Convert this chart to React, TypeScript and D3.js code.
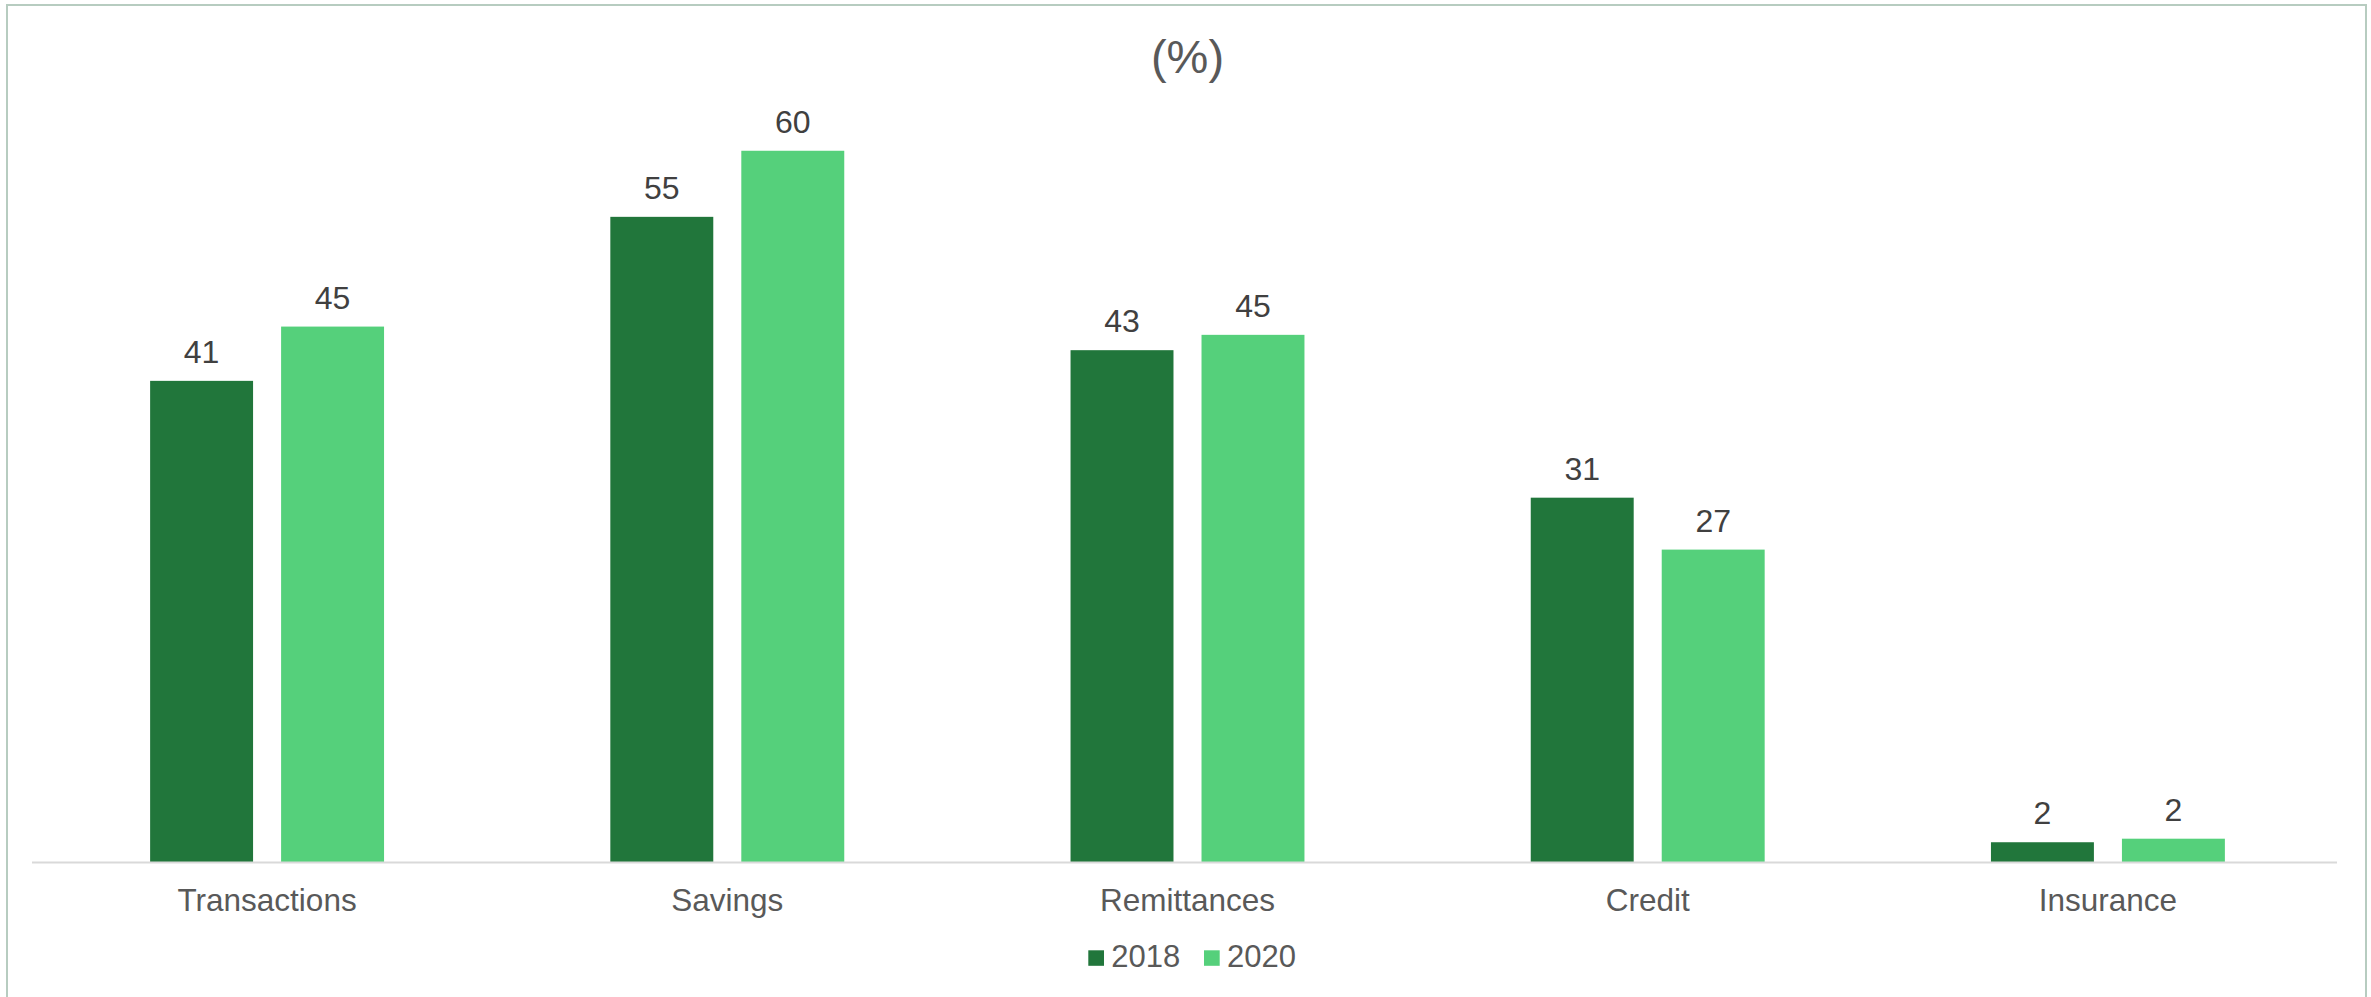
import React from "react";
import * as d3 from "d3";

const categories = ["Transactions", "Savings", "Remittances", "Credit", "Insurance"];
const seriesNames = ["2018", "2020"];
const values2018 = [40.8, 54.7, 43.4, 30.9, 1.7];
const values2020 = [45.4, 60.3, 44.7, 26.5, 2.0];
const labels2018 = ["41", "55", "43", "31", "2"];
const labels2020 = ["45", "60", "45", "27", "2"];
const title = "(%)";

const W = 2371;
const H = 997;
const colors: Record<string, string> = { "2018": "#21763B", "2020": "#55D07B" };
const FONT = "'Liberation Sans', Arial, sans-serif";

export default function App() {
  const x0 = d3
    .scaleBand<string>()
    .domain(categories)
    .range([37, 2338])
    .paddingInner(0.4917)
    .paddingOuter(0.2458);
  const x1 = d3
    .scaleBand<string>()
    .domain(seriesNames)
    .range([0, x0.bandwidth()])
    .paddingInner(0.214)
    .paddingOuter(0);
  const baseY = 862.3;
  const y = d3.scaleLinear().domain([0, 70]).range([baseY, baseY - 70 * 11.8]);

  const data = seriesNames.map((s, si) => ({
    name: s,
    values: si === 0 ? values2018 : values2020,
    labels: si === 0 ? labels2018 : labels2020,
  }));

  const plotCenter = (37 + 2338) / 2;

  return (
    <svg
      width={W}
      height={H}
      style={{ position: "absolute", left: 0, top: 0, background: "#fff" }}
      fontFamily={FONT}
    >
      <rect x={0} y={0} width={W} height={H} fill="#fff" />
      <rect x={7} y={5} width={2359} height={1100} fill="none" stroke="#B7CCC0" strokeWidth={2} />
      <text x={plotCenter} y={72.5} textAnchor="middle" fontSize={47} fill="#595959">
        {title}
      </text>
      {data.map((s) =>
        categories.map((c, i) => {
          const bx = (x0(c) ?? 0) + (x1(s.name) ?? 0);
          const top = y(s.values[i]);
          return (
            <g key={s.name + c}>
              <rect x={bx} y={top} width={x1.bandwidth()} height={baseY - top} fill={colors[s.name]} />
              <text
                x={bx + x1.bandwidth() / 2}
                y={top - 18}
                textAnchor="middle"
                fontSize={32}
                fill="#404040"
              >
                {s.labels[i]}
              </text>
            </g>
          );
        })
      )}
      <line x1={32} x2={2337} y1={baseY + 0.2} y2={baseY + 0.2} stroke="#D9D9D9" strokeWidth={2} />
      {categories.map((c) => (
        <text
          key={c}
          x={(x0(c) ?? 0) + x0.bandwidth() / 2}
          y={911}
          textAnchor="middle"
          fontSize={31.5}
          fill="#595959"
        >
          {c}
        </text>
      ))}
      {seriesNames.map((s, i) => {
        const lx = i === 0 ? 1088.3 : 1204;
        return (
          <g key={s}>
            <rect x={lx} y={950.3} width={15.7} height={15.5} fill={colors[s]} />
            <text x={lx + 23} y={967.3} fontSize={31} fill="#595959">
              {s}
            </text>
          </g>
        );
      })}
    </svg>
  );
}
